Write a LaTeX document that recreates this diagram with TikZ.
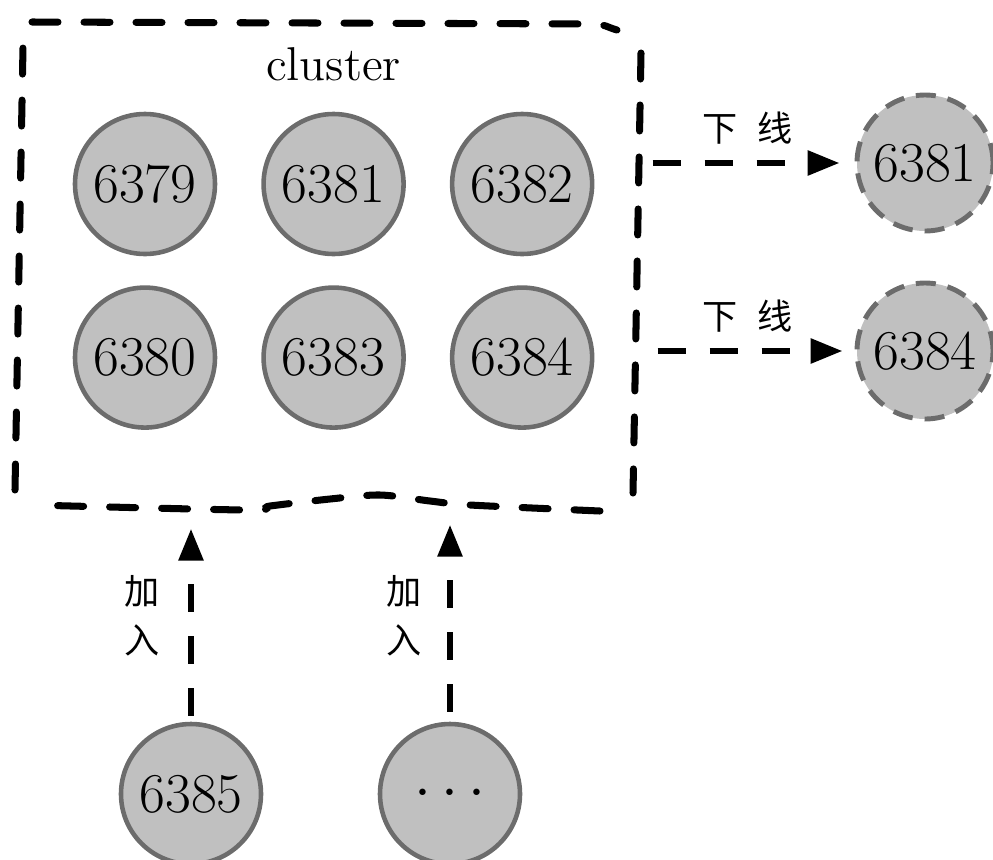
\documentclass[tikz,border=0pt]{standalone}
\usepackage{fontspec}
\newfontfamily\cjk{Noto Sans CJK SC}
\usepackage{tikz}
\usetikzlibrary{arrows.meta, positioning, fit}
\definecolor{cNode}{RGB}{192,192,192}
\definecolor{cRim}{RGB}{108,108,108}
\tikzset{
	srv/.style        ={circle, draw=cRim, line width=1.3pt, fill=cNode, minimum size=1.4cm, inner sep=0pt, font=\fontsize{16}{18}\selectfont},
	offsrv/.style     ={srv, minimum size=1.36cm, line width=1.4pt, dash pattern=on 0.2cm off 0.12cm},
	clusterline/.style={line width=2pt, line cap=round, dash pattern=on 0.26cm off 0.26cm},
	flowarrow/.style  ={-{Triangle[length=0.32cm, width=0.24cm]}, line width=1.7pt, dash pattern=on 0.28cm off 0.24cm},
	zh/.style         ={font=\cjk\fontsize{10}{14}\selectfont, align=center, inner sep=1pt},
}

\begin{document}
\begin{tikzpicture}
	\useasboundingbox (0,0) rectangle (9.93,8.59);
	% cluster members
	\node[srv] at (1.45,6.75) (n6379) {6379};
	\node[srv, right=0.44cm of n6379] (n6381) {6381};
	\node[srv, right=0.44cm of n6381] (n6382) {6382};
	\node[srv, below=0.29cm of n6379] (n6380) {6380};
	\node[srv, right=0.44cm of n6380] (n6383) {6383};
	\node[srv, right=0.44cm of n6383] (n6384) {6384};
	\node[above=0.3cm of n6381, inner sep=0pt, font=\fontsize{13.5}{15}\selectfont] (lbl) {cluster};
	\node[fit={(0.2,3.5) (6.4,8.37)}, inner sep=0pt] (clu) {};
	% hand drawn border
	\draw[clusterline] (0.32,8.37) -- (5.95,8.35) to[out=0,in=165] (6.17,8.29);
	\draw[clusterline] (6.41,8.06) -- (6.33,3.66);
	\draw[clusterline] plot[smooth, tension=0.5] coordinates {(6.00,3.48) (4.70,3.54) (4.30,3.58) (3.80,3.64) (3.30,3.60) (2.70,3.53) (2.47,3.49) (0.33,3.54)};
	\draw[clusterline] (0.15,3.69) -- (0.23,8.12);
	% removed nodes
	\node[offsrv] at (9.25,6.96) (off6381) {6381};
	\node[offsrv] at (9.25,5.08) (off6384) {6384};
	\draw[flowarrow, shorten <=0.12cm, shorten >=0.15cm] (off6381 -| clu.east) -- node[zh, midway, above=0.12cm] {下\hspace{0.2cm}线} (off6381);
	\draw[flowarrow, shorten <=0.17cm, shorten >=0.12cm] (off6384 -| clu.east) -- node[zh, midway, above=0.12cm] {下\hspace{0.2cm}线} (off6384);
	% new nodes
	\node[srv] at (1.91,0.65) (n6385) {6385};
	\node[srv] at (4.50,0.65) (more) {\fontsize{18}{20}\selectfont$\cdots$};
	\draw[flowarrow, shorten <=0.06cm, shorten >=0.19cm] (n6385) -- node[zh, midway, left=0.25cm] {加\\入} (n6385 |- clu.south);
	\draw[flowarrow, shorten <=0.1cm, shorten >=0.15cm] (more) -- node[zh, midway, left=0.22cm] {加\\入} (more |- clu.south);
\end{tikzpicture}
\end{document}
